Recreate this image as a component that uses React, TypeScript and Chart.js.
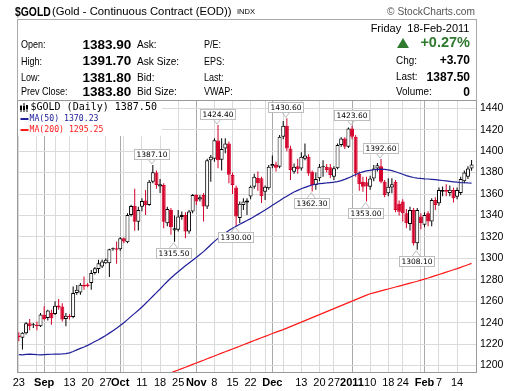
import React, { useEffect, useRef } from 'react';
import { Chart, registerables } from 'chart.js';

Chart.register(...registerables);

const RED = '#d4002a';
const BLUE = '#20209a';
const MA200_RED = '#ff1a1a';
const GREEN = '#2f7a2f';
const FONT = "'Liberation Sans', Arial, sans-serif";

// Trading days (Aug 23 2010 - Feb 18 2011)
const dates: string[] = [
  '2010-08-23','2010-08-24','2010-08-25','2010-08-26','2010-08-27','2010-08-30','2010-08-31',
  '2010-09-01','2010-09-02','2010-09-03','2010-09-07','2010-09-08','2010-09-09','2010-09-10',
  '2010-09-13','2010-09-14','2010-09-15','2010-09-16','2010-09-17',
  '2010-09-20','2010-09-21','2010-09-22','2010-09-23','2010-09-24',
  '2010-09-27','2010-09-28','2010-09-29','2010-09-30',
  '2010-10-01','2010-10-04','2010-10-05','2010-10-06','2010-10-07','2010-10-08',
  '2010-10-11','2010-10-12','2010-10-13','2010-10-14','2010-10-15',
  '2010-10-18','2010-10-19','2010-10-20','2010-10-21','2010-10-22',
  '2010-10-25','2010-10-26','2010-10-27','2010-10-28','2010-10-29',
  '2010-11-01','2010-11-02','2010-11-03','2010-11-04','2010-11-05',
  '2010-11-08','2010-11-09','2010-11-10','2010-11-11','2010-11-12',
  '2010-11-15','2010-11-16','2010-11-17','2010-11-18','2010-11-19',
  '2010-11-22','2010-11-23','2010-11-24','2010-11-26','2010-11-29','2010-11-30',
  '2010-12-01','2010-12-02','2010-12-03','2010-12-06','2010-12-07','2010-12-08','2010-12-09','2010-12-10',
  '2010-12-13','2010-12-14','2010-12-15','2010-12-16','2010-12-17',
  '2010-12-20','2010-12-21','2010-12-22','2010-12-23',
  '2010-12-27','2010-12-28','2010-12-29','2010-12-30','2010-12-31',
  '2011-01-03','2011-01-04','2011-01-05','2011-01-06','2011-01-07',
  '2011-01-10','2011-01-11','2011-01-12','2011-01-13','2011-01-14',
  '2011-01-18','2011-01-19','2011-01-20','2011-01-21',
  '2011-01-24','2011-01-25','2011-01-26','2011-01-27','2011-01-28','2011-01-31',
  '2011-02-01','2011-02-02','2011-02-03','2011-02-04',
  '2011-02-07','2011-02-08','2011-02-09','2011-02-10','2011-02-11',
  '2011-02-14','2011-02-15','2011-02-16','2011-02-17','2011-02-18',
];

const opens: number[] = [
  1228, 1226, 1230, 1239.5, 1237.5, 1238, 1236.6, 1247.4, 1244.4, 1249,
  1248, 1256, 1255, 1243.4, 1246.5, 1245.3, 1267.6, 1268, 1275.3, 1275.5,
  1277, 1286.2, 1290, 1292.4, 1295.5, 1295.5, 1308.5, 1309.5, 1308.5, 1318.7,
  1315, 1340.5, 1349, 1334, 1348, 1354, 1349.8, 1371.5, 1380, 1367,
  1368.4, 1332.8, 1345, 1326, 1326.6, 1338.5, 1340.5, 1325, 1343.6, 1359,
  1354.9, 1359, 1348.3, 1391.6, 1393, 1410, 1392, 1402.5, 1407, 1377.7,
  1366, 1337.5, 1349.8, 1352, 1357.6, 1366.8, 1375, 1374.6, 1362, 1365.3,
  1386, 1387.6, 1385.4, 1413.3, 1423.6, 1402.5, 1380.8, 1386, 1383.9, 1393,
  1394.7, 1380.8, 1368.4, 1374.6, 1385, 1385.4, 1385, 1376, 1384, 1405.6,
  1411.8, 1404, 1421.1, 1413.4, 1379, 1371.5, 1371, 1366.8, 1374.5, 1383.9,
  1386, 1371.5, 1360.6, 1366, 1371.5, 1351, 1352.9, 1342, 1332, 1345,
  1314, 1339, 1331.2, 1342, 1334.3, 1354.4, 1351.3, 1362.2, 1363.7, 1361,
  1363.7, 1357.5, 1361, 1372, 1376, 1383.9,
];
const highs: number[] = [
  1231, 1231, 1240.5, 1243.4, 1239.7, 1241, 1249, 1255.2, 1252, 1252,
  1259.9, 1262, 1258, 1249, 1248, 1273.8, 1275, 1277, 1283, 1277,
  1289, 1292, 1298.6, 1299, 1300, 1309, 1310, 1315.6, 1320, 1319.5,
  1342, 1350, 1364.8, 1348, 1356, 1363.8, 1373, 1387.1, 1382, 1374,
  1370, 1348, 1347, 1340, 1345, 1343.6, 1343, 1345, 1360, 1360,
  1359, 1361, 1393, 1396.3, 1412, 1424.4, 1412, 1412, 1409, 1380,
  1368, 1353, 1356, 1356, 1368, 1379, 1381, 1376, 1368, 1387,
  1396, 1390, 1415, 1428, 1430.6, 1405, 1388.5, 1393, 1399, 1407,
  1397, 1382, 1380, 1388, 1391.6, 1388, 1388, 1386, 1407, 1413,
  1413, 1422, 1423.6, 1415, 1381, 1376, 1376, 1377, 1387, 1389,
  1392.6, 1373, 1374.6, 1374.6, 1373, 1354, 1355, 1346, 1348, 1347,
  1347, 1342, 1343, 1344, 1356, 1357, 1366, 1367, 1369, 1368,
  1366, 1366, 1376, 1382, 1386, 1391.7,
];
const lows: number[] = [
  1222.6, 1215, 1229, 1233, 1235, 1233, 1236, 1242.2, 1242, 1238,
  1247, 1252, 1241, 1236.6, 1243, 1244, 1266, 1266, 1270.7, 1273,
  1270.7, 1285, 1286, 1291, 1295, 1282.5, 1307, 1295, 1307, 1314,
  1314, 1339, 1325.6, 1326, 1344, 1340.5, 1349, 1370, 1365, 1361,
  1328, 1330, 1322, 1315.5, 1325, 1336, 1318.8, 1323, 1342, 1349.8,
  1353, 1334.3, 1346, 1371.5, 1390, 1384, 1382, 1398, 1370, 1360,
  1330, 1333, 1345, 1340.5, 1355, 1365, 1363, 1351.5, 1354.5, 1364,
  1384, 1381, 1384, 1411, 1400, 1373, 1379, 1379, 1382, 1391.6,
  1377, 1362.3, 1364, 1372, 1376, 1380, 1375, 1373, 1383, 1404,
  1402, 1403, 1411, 1376, 1363, 1362.2, 1353, 1364, 1372, 1381,
  1370, 1357, 1358, 1360.6, 1343, 1340, 1334.3, 1328, 1326, 1312,
  1308.1, 1327, 1329, 1330, 1330, 1345, 1349, 1358, 1358, 1358,
  1352, 1355, 1359, 1370, 1374, 1381.8,
];
const closes: number[] = [
  1226.5, 1230.5, 1239.5, 1236.6, 1237.8, 1236.6, 1247.5, 1243.4, 1251.2, 1244,
  1255.8, 1254, 1242.8, 1246.5, 1245.2, 1267.6, 1270.7, 1275.3, 1273.8, 1274,
  1286.2, 1290.8, 1295.5, 1297, 1298.6, 1308.5, 1309, 1308, 1318.7, 1315.6,
  1340.5, 1348.8, 1334, 1345, 1353.5, 1349.8, 1371.5, 1380.2, 1368.4, 1369,
  1334, 1346, 1329, 1328, 1338.9, 1340.5, 1325, 1343.6, 1359, 1352.9,
  1357, 1348.3, 1391.6, 1394.7, 1410.2, 1391.6, 1402, 1407, 1378, 1368.4,
  1339, 1351, 1352.9, 1354, 1366.8, 1376, 1370, 1358, 1366.8, 1385.4,
  1388, 1384.5, 1413.3, 1423.6, 1402.5, 1382.3, 1385.4, 1383, 1394.7, 1396,
  1379.2, 1368.4, 1374, 1385.4, 1386, 1382.3, 1377.7, 1384, 1405.6, 1411.8,
  1404, 1421.1, 1413.4, 1379.2, 1369, 1366.8, 1367, 1374.5, 1383.9, 1386.9,
  1371.5, 1359, 1366.8, 1369, 1345.1, 1343.5, 1342, 1332.8, 1345, 1314,
  1345, 1333, 1340.5, 1334.3, 1354.4, 1349.8, 1363.7, 1363.7, 1362.2, 1364,
  1356, 1363.7, 1374, 1380, 1383.8, 1387.5,
];

const ma50: number[] = [
  1210.2, 1210.0, 1210.3, 1210.6, 1210.4, 1210.1, 1210.0, 1210.2, 1210.4, 1210.5,
  1210.6, 1210.7, 1210.8, 1211.0, 1211.8, 1213.0, 1214.6, 1216.0, 1217.3, 1218.8,
  1220.6, 1222.4, 1224.1, 1226.0, 1228.0, 1230.2, 1232.5, 1234.8, 1237.3, 1239.9,
  1242.8, 1245.8, 1248.6, 1251.5, 1254.6, 1257.8, 1261.2, 1264.6, 1268.0, 1271.4,
  1275.0, 1278.4, 1281.6, 1284.6, 1287.5, 1290.3, 1293.0, 1295.6, 1298.2, 1300.8,
  1303.5, 1306.2, 1309.4, 1312.6, 1315.8, 1318.6, 1321.2, 1323.6, 1325.9, 1328.0,
  1330.0, 1331.8, 1333.5, 1335.2, 1337.0, 1339.0, 1341.0, 1343.0, 1345.0, 1347.2,
  1349.4, 1351.6, 1353.8, 1356.0, 1358.0, 1360.0, 1361.8, 1363.4, 1364.9, 1366.2,
  1367.4, 1368.4, 1369.1, 1369.6, 1370.0, 1370.3, 1370.7, 1371.0, 1371.6, 1372.5,
  1373.6, 1375.0, 1376.6, 1378.2, 1379.6, 1380.7, 1381.5, 1382.1, 1382.6, 1383.0,
  1383.2, 1383.0, 1382.5, 1381.8, 1380.8, 1379.6, 1378.4, 1377.2, 1376.2, 1375.4,
  1374.9, 1374.5, 1374.2, 1374.0, 1373.7, 1373.4, 1373.0, 1372.6, 1372.2, 1371.8,
  1371.4, 1371.0, 1370.7, 1370.5, 1370.3, 1370.23,
];

// MA(200) values from trading day index 40 onward (earlier part lies below the plot)
const ma200Start = 40;
const ma200: number[] = [
  1190.6, 1191.9, 1193.2, 1194.5, 1195.8, 1197.1, 1198.4, 1199.7, 1201.0, 1202.3,
  1203.6, 1204.9, 1206.3, 1207.6, 1208.9, 1210.2, 1211.5, 1212.8, 1214.1, 1215.4,
  1216.7, 1218.0, 1219.3, 1220.6, 1222.0, 1223.3, 1224.6, 1225.9, 1227.2, 1228.5,
  1229.8, 1231.1, 1232.3, 1233.5, 1234.9, 1236.3, 1237.7, 1239.1, 1240.5, 1241.9,
  1243.3, 1244.7, 1246.1, 1247.5, 1248.9, 1250.3, 1251.7, 1253.1, 1254.5, 1255.9,
  1257.3, 1258.7, 1260.1, 1261.5, 1262.9, 1264.3, 1265.6, 1266.9, 1267.8, 1268.7,
  1269.6, 1270.5, 1271.4, 1272.3, 1273.2, 1274.1, 1275.0, 1275.9, 1276.8, 1277.7,
  1278.6, 1279.6, 1280.6, 1281.6, 1282.7, 1283.8, 1284.9, 1286.0, 1287.1, 1288.2,
  1289.3, 1290.4, 1291.6, 1292.8, 1294.0, 1295.25,
];

// x-axis ticks (trading-day indices) and their labels
const tickDays: number[] = [0, 5, 7, 10, 14, 19, 24, 28, 29, 34, 39, 44, 49, 54, 59, 64, 68, 70, 73, 78, 83, 87, 92, 97, 102, 106, 111, 112, 116, 121];
const tickTexts: string[] = ['23', '', 'Sep', '', '13', '20', '27', 'Oct', '', '11', '18', '25', 'Nov', '8', '15', '22', '', 'Dec', '', '13', '20', '27', '2011', '10', '18', '24', '', 'Feb', '7', '14'];
const monthDays: number[] = [7, 28, 49, 70, 92, 112];
const yTicks: number[] = [1200, 1220, 1240, 1260, 1280, 1300, 1320, 1340, 1360, 1380, 1400, 1420, 1440];

// annotated swing points: day index and whether it marks the high or the low
const peakDays: number[] = [37, 43, 55, 60, 74, 81, 92, 96, 100, 110];
const peakKinds: string[] = ['H', 'L', 'H', 'L', 'H', 'L', 'H', 'L', 'H', 'L'];

const overlayPlugin = {
  id: 'overlay',
  afterDraw(chart: any) {
    const { ctx, chartArea: a, scales } = chart;
    const xs = scales.x;
    const ys = scales.y;
    const last = closes.length - 1;
    ctx.save();

    // plot border
    ctx.strokeStyle = '#999';
    ctx.lineWidth = 1;
    ctx.strokeRect(a.left + 0.5, a.top + 0.5, a.right - a.left - 1, a.bottom - a.top - 1);

    // legend box
    ctx.fillStyle = '#fff';
    ctx.fillRect(a.left + 1, a.top + 1, 144, 35);
    // candle icon
    ctx.strokeStyle = '#000';
    ctx.fillStyle = '#000';
    const ix = a.left + 3.5;
    const iy = a.top + 3;
    for (let k = 0; k < 3; k++) {
      const cx = ix + k * 3;
      ctx.beginPath();
      ctx.moveTo(cx + 0.5, iy + (k === 1 ? 0 : 2));
      ctx.lineTo(cx + 0.5, iy + 9);
      ctx.stroke();
      ctx.fillRect(cx - 0.5, iy + 3 + (k === 2 ? -1 : 0), 2, 4);
    }
    ctx.textAlign = 'left';
    ctx.textBaseline = 'middle';
    ctx.font = "10px 'DejaVu Sans Mono', monospace";
    ctx.fillStyle = '#000';
    ctx.fillText('$GOLD (Daily) ' + closes[last].toFixed(2), a.left + 13.5, a.top + 7.8);
    ctx.font = "8.2px 'DejaVu Sans Mono', monospace";
    ctx.lineWidth = 2;
    ctx.strokeStyle = BLUE;
    ctx.beginPath();
    ctx.moveTo(a.left + 3.5, a.top + 19);
    ctx.lineTo(a.left + 11.5, a.top + 19);
    ctx.stroke();
    ctx.fillStyle = BLUE;
    ctx.fillText('MA(50) ' + ma50[last].toFixed(2), a.left + 12.5, a.top + 19);
    ctx.strokeStyle = MA200_RED;
    ctx.beginPath();
    ctx.moveTo(a.left + 3.5, a.top + 30);
    ctx.lineTo(a.left + 11.5, a.top + 30);
    ctx.stroke();
    ctx.fillStyle = MA200_RED;
    ctx.fillText('MA(200) ' + ma200[ma200.length - 1].toFixed(2), a.left + 12.5, a.top + 30);

    // swing-point labels
    ctx.lineWidth = 1;
    ctx.font = "7.5px 'DejaVu Sans', sans-serif";
    ctx.textAlign = 'center';
    peakDays.forEach((d, k) => {
      const isHigh = peakKinds[k] === 'H';
      const v = isHigh ? highs[d] : lows[d];
      const px = xs.getPixelForValue(d) - 1;
      const py = ys.getPixelForValue(v);
      const bw = 35;
      const bh = 10;
      const by = Math.round(isHigh ? py - 6 - bh : py + 6);
      const bx = Math.round(px - bw / 2);
      ctx.strokeStyle = '#bdbdbd';
      ctx.beginPath();
      if (isHigh) {
        ctx.moveTo(px - 4, by + bh);
        ctx.lineTo(px, py - 1);
        ctx.lineTo(px + 4, by + bh);
      } else {
        ctx.moveTo(px - 4, by);
        ctx.lineTo(px, py + 1);
        ctx.lineTo(px + 4, by);
      }
      ctx.stroke();
      ctx.fillStyle = '#fff';
      ctx.fillRect(bx, by, bw, bh);
      ctx.strokeRect(bx + 0.5, by + 0.5, bw, bh);
      ctx.fillStyle = '#000';
      ctx.fillText(v.toFixed(2), bx + bw / 2 + 0.5, by + bh / 2 + 1);
    });
    ctx.restore();
  },
};

type TI = { t: string; x: number; y: number; size: number; bold?: boolean; color?: string; right?: boolean; sx?: number; family?: string };

const headerItems: TI[] = [
  { t: '$GOLD', x: 15, y: 11.2, size: 13, bold: true, sx: 0.8 },
  { t: '(Gold - Continuous Contract (EOD))', x: 52, y: 11.5, size: 11.3 },
  { t: 'INDX', x: 237, y: 12, size: 7.5 },
  { t: '\u00A9 StockCharts.com', x: 475, y: 12, size: 10.2, color: '#555', right: true },
  { t: 'Open:', x: 21, y: 44.3, size: 11, sx: 0.82 },
  { t: 'High:', x: 21, y: 61, size: 11, sx: 0.82 },
  { t: 'Low:', x: 21, y: 77.7, size: 11, sx: 0.82 },
  { t: 'Prev Close:', x: 21, y: 91.7, size: 11, sx: 0.82 },
  { t: '1383.90', x: 82.5, y: 44.3, size: 13.5, bold: true },
  { t: '1391.70', x: 82.5, y: 61, size: 13.5, bold: true },
  { t: '1381.80', x: 82.5, y: 77.7, size: 13.5, bold: true },
  { t: '1383.80', x: 82.5, y: 91.7, size: 13.5, bold: true },
  { t: 'Ask:', x: 136.5, y: 44.3, size: 11, sx: 0.92 },
  { t: 'Ask Size:', x: 136.5, y: 61, size: 11, sx: 0.92 },
  { t: 'Bid:', x: 136.5, y: 77.7, size: 11, sx: 0.92 },
  { t: 'Bid Size:', x: 136.5, y: 91.7, size: 11, sx: 0.92 },
  { t: 'P/E:', x: 204, y: 44.3, size: 11, sx: 0.82 },
  { t: 'EPS:', x: 204, y: 61, size: 11, sx: 0.82 },
  { t: 'Last:', x: 204, y: 77.7, size: 11, sx: 0.82 },
  { t: 'VWAP:', x: 204, y: 91.7, size: 11, sx: 0.82 },
  { t: 'Friday  18-Feb-2011', x: 469.5, y: 28.3, size: 11, right: true },
  { t: '+0.27%', x: 470, y: 42.5, size: 14.5, bold: true, color: GREEN, right: true },
  { t: 'Chg:', x: 396, y: 60, size: 11, sx: 0.9 },
  { t: '+3.70', x: 470, y: 60, size: 12, bold: true, right: true },
  { t: 'Last:', x: 396, y: 76.5, size: 11, sx: 0.9 },
  { t: '1387.50', x: 470, y: 76.5, size: 12, bold: true, right: true },
  { t: 'Volume:', x: 396, y: 91.5, size: 11, sx: 0.9 },
  { t: '0', x: 470, y: 91.5, size: 12, bold: true, right: true },
];

function Txt({ it }: { it: TI }) {
  const style: any = {
    position: 'absolute',
    top: it.y - it.size * 0.5,
    fontSize: it.size,
    lineHeight: `${it.size}px`,
    fontWeight: it.bold ? 'bold' : 'normal',
    color: it.color || '#000',
    fontFamily: it.family || FONT,
    whiteSpace: 'pre',
    transform: it.sx ? `scaleX(${it.sx})` : undefined,
    transformOrigin: it.right ? 'right center' : 'left center',
  };
  if (it.right) style.right = 520 - it.x;
  else style.left = it.x;
  return <div style={style}>{it.t}</div>;
}

export default function App() {
  const ref = useRef<HTMLCanvasElement>(null);

  useEffect(() => {
    const canvas = ref.current;
    if (!canvas) return;
    const labels = [...dates, ''];
    const up = closes.map((c, i) => c >= opens[i]);
    const wick = highs.map((h, i) => [lows[i], h]);
    const body = opens.map((o, i) => [Math.min(o, closes[i]), Math.max(o, closes[i])]);
    const edge = up.map((u) => (u ? '#000' : RED));
    const fill = up.map((u) => (u ? '#fff' : RED));
    const ma200Data = dates.map((_, i) => (i < ma200Start ? null : ma200[i - ma200Start]));

    const chart = new Chart(canvas, {
      type: 'bar',
      data: {
        labels,
        datasets: [
          {
            type: 'line',
            label: 'MA(50)',
            data: ma50,
            borderColor: BLUE,
            borderWidth: 1.2,
            pointRadius: 0,
            tension: 0,
            order: 0,
          },
          {
            type: 'line',
            label: 'MA(200)',
            data: ma200Data,
            borderColor: MA200_RED,
            borderWidth: 1.2,
            pointRadius: 0,
            tension: 0,
            order: 0,
          },
          {
            type: 'bar',
            label: 'body',
            data: body,
            backgroundColor: fill,
            borderColor: edge,
            borderWidth: 1,
            borderSkipped: false,
            barThickness: 4,
            minBarLength: 1,
            grouped: false,
            inflateAmount: 0,
            order: 1,
          },
          {
            type: 'bar',
            label: 'wick',
            data: wick,
            backgroundColor: edge,
            borderWidth: 0,
            barThickness: 1,
            grouped: false,
            inflateAmount: 0,
            order: 2,
          },
        ] as any,
      },
      options: {
        responsive: false,
        animation: false,
        devicePixelRatio: 1,
        events: [],
        layout: { padding: { left: 17, top: 100, right: 0, bottom: 0 } },
        plugins: { legend: { display: false }, tooltip: { enabled: false } },
        scales: {
          x: {
            type: 'category',
            offset: true,
            afterBuildTicks: (scale: any) => {
              scale.ticks = tickDays.map((v) => ({ value: v }));
            },
            afterFit: (scale: any) => {
              scale.height = 18;
            },
            grid: {
              offset: false,
              drawTicks: false,
              color: (c: any) => (c.tick && monthDays.includes(c.tick.value) ? '#aaaaaa' : '#dadada'),
              lineWidth: 1,
            },
            border: { display: false },
            ticks: {
              autoSkip: false,
              maxRotation: 0,
              minRotation: 0,
              padding: 3,
              color: '#000',
              font: (c: any) => ({
                family: FONT,
                size: 11,
                weight: c.tick && monthDays.includes(c.tick.value) ? 'bold' : 'normal',
              }),
              callback: (value: any) => {
                const k = tickDays.indexOf(Number(value));
                return k >= 0 ? tickTexts[k] : '';
              },
            },
          },
          y: {
            type: 'linear',
            position: 'right',
            min: 1193,
            max: 1447.7,
            afterBuildTicks: (scale: any) => {
              scale.ticks = yTicks.map((v) => ({ value: v }));
            },
            afterFit: (scale: any) => {
              scale.width = 43;
            },
            grid: { drawTicks: false, color: '#dadada', lineWidth: 1 },
            border: { display: false },
            ticks: {
              padding: 3,
              color: '#000',
              font: { family: FONT, size: 10.5 },
              callback: (v: any) => String(v),
            },
          },
        },
      } as any,
      plugins: [overlayPlugin],
    });
    return () => chart.destroy();
  }, []);

  return (
    <div style={{ position: 'fixed', left: 0, top: 0, width: 520, height: 391, background: '#fff', overflow: 'hidden' }}>
      <canvas ref={ref} width={520} height={391} style={{ position: 'absolute', left: 0, top: 0, width: 520, height: 391 }} />
      <div
        style={{
          position: 'absolute',
          left: 17,
          top: 19,
          width: 460,
          height: 82,
          boxSizing: 'border-box',
          border: '1px solid #aaa',
          borderBottom: 'none',
        }}
      />
      {headerItems.map((it, i) => (
        <Txt key={i} it={it} />
      ))}
      <div
        style={{
          position: 'absolute',
          left: 396.5,
          top: 37.5,
          width: 0,
          height: 0,
          borderLeft: '6px solid transparent',
          borderRight: '6px solid transparent',
          borderBottom: '10px solid ' + GREEN,
        }}
      />
    </div>
  );
}
